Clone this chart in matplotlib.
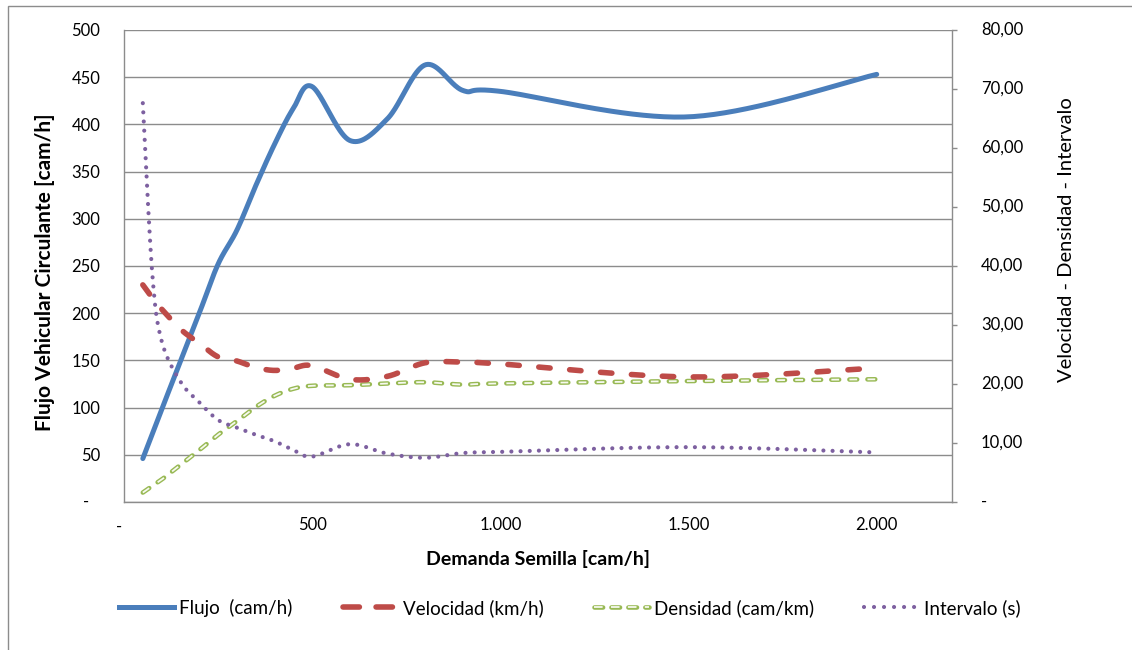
import numpy as np
import matplotlib
matplotlib.use("Agg")
import matplotlib.pyplot as plt
from matplotlib.lines import Line2D
from matplotlib.patches import Rectangle
from matplotlib.transforms import blended_transform_factory

plt.rcParams['font.family'] = ['Lato', 'DejaVu Sans']
plt.rcParams['lines.scale_dashes'] = False

# ---------------- data ----------------
demanda = [50, 75, 100, 150, 200, 250, 300, 350, 400, 450, 500,
           600, 700, 800, 900, 1000, 1500, 2000]
flujo = [46, 72, 98, 149, 200, 252, 288, 335, 379, 417, 440,
         383, 406, 463, 436, 435, 408, 453]
velocidad = [36.8, 34.6, 32.7, 29.3, 26.9, 24.6, 23.9, 22.8, 22.3, 22.7, 23.1,
             20.8, 21.3, 23.6, 23.7, 23.4, 21.2, 22.7]
densidad = [1.6, 2.7, 3.8, 6.3, 8.8, 11.4, 13.7, 16.1, 18.0, 19.2, 19.7,
            19.8, 20.1, 20.3, 19.9, 20.1, 20.5, 20.8]
intervalo = [67.6, 38.8, 27.3, 20.4, 16.9, 13.9, 12.6, 11.4, 10.3, 8.8, 7.7,
             9.8, 8.2, 7.5, 8.3, 8.5, 9.3, 8.4]

x_ticks = [0, 500, 1000, 1500, 2000]
x_labels = ['-', '500', '1.000', '1.500', '2.000']
left_ticks = list(range(0, 501, 50))
right_ticks = list(range(0, 81, 10))

series_labels = ['Flujo  (cam/h)', 'Velocidad (km/h)', 'Densidad (cam/km)', 'Intervalo (s)']


def smooth(x, y, n=40):
    """Excel-like smoothed line (Catmull-Rom Bezier segments)."""
    P = np.column_stack([x, y]).astype(float)
    out = []
    m = len(P)
    for i in range(m - 1):
        p0 = P[i - 1] if i > 0 else P[i]
        p1, p2 = P[i], P[i + 1]
        p3 = P[i + 2] if i + 2 < m else P[i + 1]
        b1 = p1 + (p2 - p0) / 6.0
        b2 = p2 - (p3 - p1) / 6.0
        t = np.linspace(0, 1, n, endpoint=(i == m - 2))[:, None]
        seg = ((1 - t) ** 3) * p1 + 3 * ((1 - t) ** 2) * t * b1 + 3 * (1 - t) * t ** 2 * b2 + t ** 3 * p2
        out.append(seg)
    out = np.vstack(out)
    return out[:, 0], out[:, 1]


W, H = 1132, 650
fig = plt.figure(figsize=(W / 100, H / 100), dpi=100)
fig.patch.set_facecolor('white')

# chart-area border (extends past right / bottom edge)
fig.patches.append(Rectangle((7.5 / W, -0.1), 1.2, 1 - 6 / H + 0.1, transform=fig.transFigure,
                             fill=False, edgecolor='#8c8c8c', lw=1.0))

L, R, T, B = 124, 952, 30, 502
ax = fig.add_axes([L / W, 1 - B / H, (R - L) / W, (B - T) / H])
ax2 = ax.twinx()

grid_c = '#8c8c8c'
TICK_FS = 12
ax.set_xlim(0, 2200)
ax.set_ylim(0, 500)
ax2.set_ylim(0, 80)
ax.set_yticks(left_ticks)
ax.set_yticklabels(['' if v == 0 else str(v) for v in left_ticks])
ax2.set_yticks(right_ticks)
ax2.set_yticklabels([])
ax.set_xticks(x_ticks)
ax.set_xticklabels(['' if v == 0 else s for v, s in zip(x_ticks, x_labels)])

ax.grid(axis='y', color=grid_c, lw=1.0)
ax.set_axisbelow(True)
for a in (ax, ax2):
    for s in a.spines.values():
        s.set_color(grid_c)
        s.set_linewidth(1.0)
    a.spines['top'].set_visible(False)
ax.spines['right'].set_visible(False)
ax2.spines['left'].set_visible(False)
ax2.spines['bottom'].set_visible(False)

ax.yaxis.set_tick_params(which='major', length=0, pad=17, labelsize=TICK_FS)
ax.xaxis.set_tick_params(which='major', length=0, pad=11, labelsize=TICK_FS)
ax2.yaxis.set_tick_params(which='major', length=3.6, width=1, color=grid_c)

# right-axis tick labels (Excel accounting format, comma decimals)
rtrans = blended_transform_factory(fig.transFigure, ax2.transData)
for v in right_ticks:
    lab = '-' if v == 0 else f"{v:.2f}".replace('.', ',')
    ax2.text(981 / W, v, lab, transform=rtrans, ha='left', va='center',
             fontsize=TICK_FS, clip_on=False)
# zero labels of the left and bottom axes (accounting dash, slightly offset)
ltrans = blended_transform_factory(fig.transFigure, ax.transData)
ax.text(86 / W, 0, '-', transform=ltrans, ha='center', va='center', fontsize=TICK_FS, clip_on=False)
btrans = blended_transform_factory(ax.transData, fig.transFigure)
ax.text(x_ticks[0] - 13, 1 - 527 / H, x_labels[0], transform=btrans, ha='center', va='center',
        fontsize=TICK_FS, clip_on=False)

# ---- series ----
blue = '#4A7EBB'
red = '#BE4B48'
green = '#98B954'
purple = '#7D60A0'
inner = '#f6f9ef'

xs, ys = smooth(demanda, flujo)
ax.plot(xs, ys, color=blue, lw=3.6, solid_capstyle='round', zorder=5)

xs, ys = smooth(demanda, velocidad)
ax2.plot(xs, ys, color=red, lw=4.0, dashes=(8.2, 14.1), dash_capstyle='round', zorder=4)

xs, ys = smooth(demanda, densidad)
ax2.plot(xs, ys, color=green, lw=3.3, dashes=(5.6, 7.4), dash_capstyle='round', zorder=3)
ax2.plot(xs, ys, color=inner, lw=1.3, dashes=(5.6, 7.4), dash_capstyle='butt', zorder=3.1)

xs, ys = smooth(demanda, intervalo)
ax2.plot(xs, ys, color=purple, lw=3.0, dashes=(0.01, 6.6), dash_capstyle='round', zorder=3.5)

# ---- axis titles ----
fig.text(538 / W, 1 - 559 / H, 'Demanda Semilla [cam/h]', ha='center', va='center',
         fontsize=14, fontweight='bold')
fig.text(45 / W, 1 - 272 / H, 'Flujo Vehicular Circulante [cam/h]', ha='center', va='center',
         rotation=90, fontsize=15, fontweight='bold')
fig.text(1066 / W, 1 - 240 / H, 'Velocidad - Densidad - Intervalo', ha='center', va='center',
         rotation=90, fontsize=14.5)

# ---- legend ----
h1 = Line2D([], [], color=blue, lw=3.6)
h2 = Line2D([], [], color=red, lw=4.0, dashes=(11.8, 12.0), dash_capstyle='round')
h3a = Line2D([], [], color=green, lw=3.3, dashes=(6.2, 6.0), dash_capstyle='round')
h3b = Line2D([], [], color=inner, lw=1.3, dashes=(6.2, 6.0), dash_capstyle='butt')
h4 = Line2D([], [], color=purple, lw=3.0, dashes=(0.01, 7.2), dash_capstyle='round')
fig.legend([h1, h2, (h3a, h3b), h4], series_labels, loc='center', ncol=4,
           bbox_to_anchor=(570 / W, 1 - 608 / H), frameon=False, fontsize=13.5,
           handlelength=2.93, handletextpad=0.27, columnspacing=2.67)

fig.savefig('out.png', dpi=100)
